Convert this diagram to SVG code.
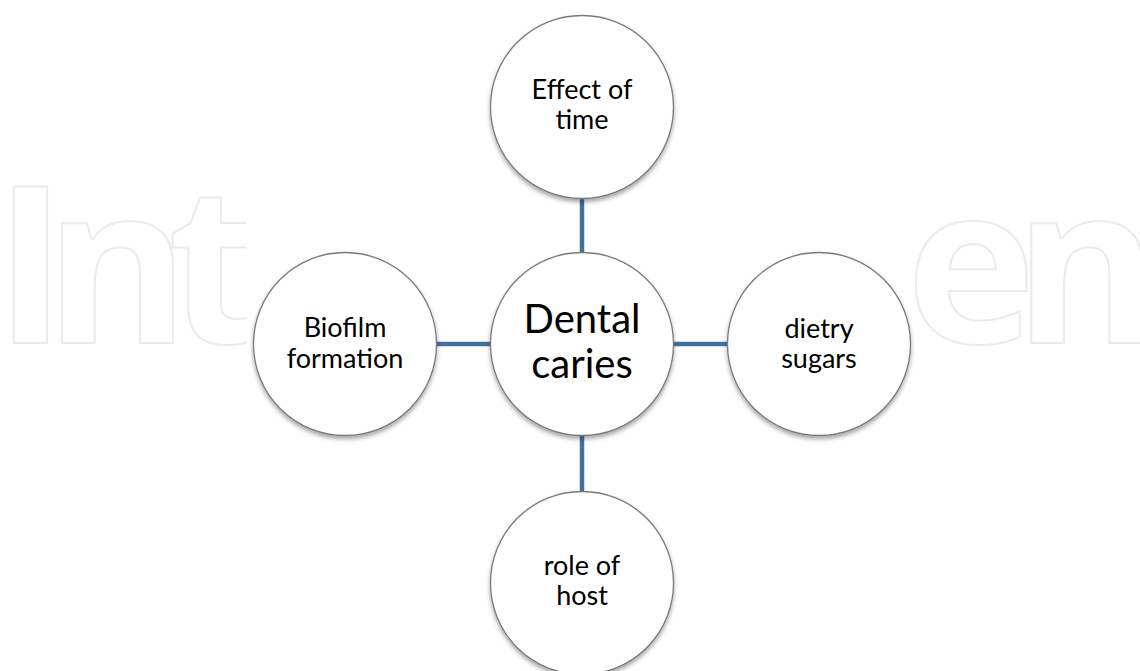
<svg xmlns="http://www.w3.org/2000/svg" width="1140" height="671" viewBox="0 0 1140 671">
<defs>
<filter id="sh" x="-20%" y="-20%" width="140%" height="150%">
<feDropShadow dx="0" dy="3" stdDeviation="2" flood-color="#000" flood-opacity="0.35"/>
</filter>
</defs>
<style>
.wm{font-family:"Open Sans",sans-serif;font-weight:700;font-size:220px;letter-spacing:-22px;fill:none;stroke:#ebebeb;stroke-width:2}
.node circle{fill:#fff;stroke:#7a7a7a;stroke-width:1.3;filter:url(#sh)}
.lbl{font-family:Lato,"Liberation Sans",sans-serif;font-size:27px;fill:#000;text-anchor:middle}
.big{font-size:40px}
.conn line{stroke:#41719c;stroke-width:4.5}
</style>
<rect width="1140" height="671" fill="#fff"/>
<g id="watermark">
<text class="wm" x="-6" y="343">Int</text>
<text class="wm" x="906" y="343">en</text>
<rect x="247" y="0" width="668" height="671" fill="#fff"/>
</g>
<g id="connectors" class="conn">
<line x1="582" y1="196" x2="582" y2="256"/>
<line x1="582" y1="432" x2="582" y2="494"/>
<line x1="433" y1="344" x2="493" y2="344"/>
<line x1="671" y1="344" x2="731" y2="344"/>
</g>
<g id="node-top" class="node">
<circle cx="582" cy="107" r="91.5"/>
<text class="lbl" x="582" y="99">Effect of</text>
<text class="lbl" x="582" y="129">time</text>
</g>
<g id="node-left" class="node">
<circle cx="345" cy="344" r="91.5"/>
<text class="lbl" x="345" y="337">Biofilm</text>
<text class="lbl" x="345" y="368">formation</text>
</g>
<g id="node-right" class="node">
<circle cx="819" cy="344" r="91.5"/>
<text class="lbl" x="819" y="338">dietry</text>
<text class="lbl" x="819" y="368">sugars</text>
</g>
<g id="node-bottom" class="node">
<circle cx="582" cy="583" r="91.5"/>
<text class="lbl" x="582" y="575">role of</text>
<text class="lbl" x="582" y="605">host</text>
</g>
<g id="node-center" class="node">
<circle cx="582" cy="344" r="91.5"/>
<text class="lbl big" x="582" y="333">Dental</text>
<text class="lbl big" x="582" y="378">caries</text>
</g>
</svg>
